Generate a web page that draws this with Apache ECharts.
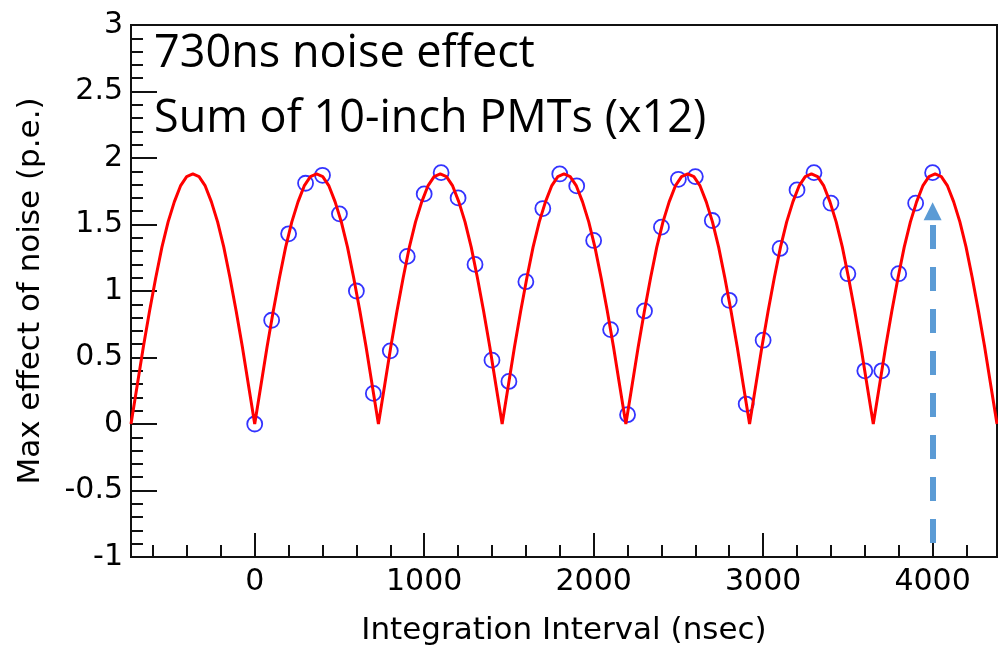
<!DOCTYPE html>
<html><head><meta charset="utf-8">
<script src="https://cdn.jsdelivr.net/npm/echarts@6/dist/echarts.min.js"></script>
<style>html,body{margin:0;padding:0;background:#fff}#c{width:998px;height:651px}</style>
</head><body><div id="c"></div>
<script>
// measured points (blue circles)
const measX = [0,100,200,300,400,500,600,700,800,900,1000,1100,1200,1300,1400,1500,1600,1700,1800,1900,2000,
  2100,2200,2300,2400,2500,2600,2700,2800,2900,3000,3100,3200,3300,3400,3500,3600,3700,3800,3900,4000];
const measY = [0.00,0.78,1.43,1.81,1.87,1.58,1.00,0.23,0.55,1.26,1.73,1.89,1.70,1.20,0.48,0.32,1.07,1.62,1.88,1.79,1.38,
  0.71,0.07,0.85,1.48,1.84,1.86,1.53,0.93,0.15,0.63,1.32,1.76,1.89,1.66,1.13,0.40,0.40,1.13,1.66,1.89];
const fitStartX = -730;
const fitStepX = 36.5;
const fitY = [
  0,0.29,0.58,0.85,1.10,1.33,1.52,1.67,1.79,1.86,1.88,1.86,1.79,1.67,1.52,1.33,1.10,0.85,0.58,0.29,
  0,0.29,0.58,0.85,1.10,1.33,1.52,1.67,1.79,1.86,1.88,1.86,1.79,1.67,1.52,1.33,1.10,0.85,0.58,0.29,
  0,0.29,0.58,0.85,1.10,1.33,1.52,1.67,1.79,1.86,1.88,1.86,1.79,1.67,1.52,1.33,1.10,0.85,0.58,0.29,
  0,0.29,0.58,0.85,1.10,1.33,1.52,1.67,1.79,1.86,1.88,1.86,1.79,1.67,1.52,1.33,1.10,0.85,0.58,0.29,
  0,0.29,0.58,0.85,1.10,1.33,1.52,1.67,1.79,1.86,1.88,1.86,1.79,1.67,1.52,1.33,1.10,0.85,0.58,0.29,
  0,0.29,0.58,0.85,1.10,1.33,1.52,1.67,1.79,1.86,1.88,1.86,1.79,1.67,1.52,1.33,1.10,0.85,0.58,0.29,
  0,0.29,0.58,0.85,1.10,1.33,1.52,1.67,1.79,1.86,1.88,1.86,1.79,1.67,1.52,1.33,1.10,0.85,0.58,0.29,
  0
];
// axes
const xMin = -730, xMax = 4380;
const yMin = -1, yMax = 3, yStep = 0.5;
const xMajorTicks = [0,1000,2000,3000,4000];
const xMinorTicks = [-600,-400,-200,200,400,600,800,1200,1400,1600,1800,2200,2400,2600,2800,3200,3400,3600,3800,4200];
const xTitle = 'Integration Interval (nsec)';
const yTitle = 'Max effect of noise (p.e.)';
// arrow
const arrowX = 4000, arrowFrom = -1, arrowTo = 1.60;
// annotation
const noteLines = ['730ns noise effect', 'Sum of 10-inch PMTs (x12)'];

const fitData = fitY.map((y, i) => [fitStartX + i * fitStepX, y]);
const measData = measX.map((x, i) => [x, measY[i]]);

const axisColor = '#111';
const lblFont = 'DejaVu Sans';

const chart = echarts.init(document.getElementById('c'), null, {renderer: 'canvas'});
chart.setOption({
  animation: false,
  backgroundColor: '#fff',
  grid: {left: 131, right: 1, top: 25, bottom: 92, show: true, borderColor: axisColor, borderWidth: 2, backgroundColor: 'transparent'},
  xAxis: [
    {
      type: 'value', min: xMin, max: xMax, position: 'bottom',
      axisLine: {show: true, onZero: false, lineStyle: {color: axisColor, width: 2}},
      axisTick: {show: true, inside: true, length: 24, customValues: xMajorTicks, lineStyle: {color: axisColor, width: 2}},
      axisLabel: {show: true, customValues: xMajorTicks, fontSize: 30, fontFamily: lblFont, color: '#000', margin: 10,
        formatter: v => String(v)},
      splitLine: {show: false},
      name: xTitle, nameLocation: 'middle', nameGap: 58,
      nameTextStyle: {fontSize: 31, fontFamily: lblFont, color: '#000'}
    },
    {
      type: 'value', min: xMin, max: xMax, position: 'bottom',
      axisLine: {show: false, onZero: false},
      axisTick: {show: true, inside: true, length: 12, customValues: xMinorTicks, lineStyle: {color: axisColor, width: 2}},
      axisLabel: {show: false, customValues: xMinorTicks},
      splitLine: {show: false}
    }
  ],
  yAxis: {
    type: 'value', min: yMin, max: yMax, interval: yStep,
    axisLine: {show: true, onZero: false, lineStyle: {color: axisColor, width: 2}},
    axisTick: {show: true, inside: true, length: 26, lineStyle: {color: axisColor, width: 2}},
    minorTick: {show: true, splitNumber: 5, length: 12, lineStyle: {color: axisColor, width: 2}},
    axisLabel: {fontSize: 30, fontFamily: lblFont, color: '#000', margin: 8, formatter: v => String(v)},
    splitLine: {show: false},
    name: yTitle, nameLocation: 'middle', nameGap: 85,
    nameTextStyle: {fontSize: 31, fontFamily: lblFont, color: '#000'}
  },
  series: [
    {
      type: 'scatter', xAxisIndex: 0, data: measData, z: 2,
      symbol: 'circle', symbolSize: 15,
      itemStyle: {color: 'rgba(0,0,0,0)', borderColor: '#0000ff', borderWidth: 1.8},
      emphasis: {disabled: true},
      markLine: {
        silent: true, animation: false,
        symbol: ['none', 'triangle'], symbolSize: [18, 18],
        label: {show: false},
        emphasis: {disabled: true},
        lineStyle: {color: '#5B9BD5', width: 6, type: [24, 18], dashOffset: 28},
        itemStyle: {color: '#5B9BD5'},
        data: [[{coord: [arrowX, arrowFrom]}, {coord: [arrowX, arrowTo]}]]
      }
    },
    {
      type: 'line', xAxisIndex: 0, data: fitData, z: 3,
      showSymbol: false, symbol: 'none',
      lineStyle: {color: '#ff0000', width: 3},
      emphasis: {disabled: true}
    }
  ],
  graphic: [{
    type: 'text', left: 154, top: 22, z: 10,
    style: {text: noteLines.join('\n'), font: '45px "Open Sans"', fill: '#000', lineHeight: 65}
  }]
});
</script></body></html>
